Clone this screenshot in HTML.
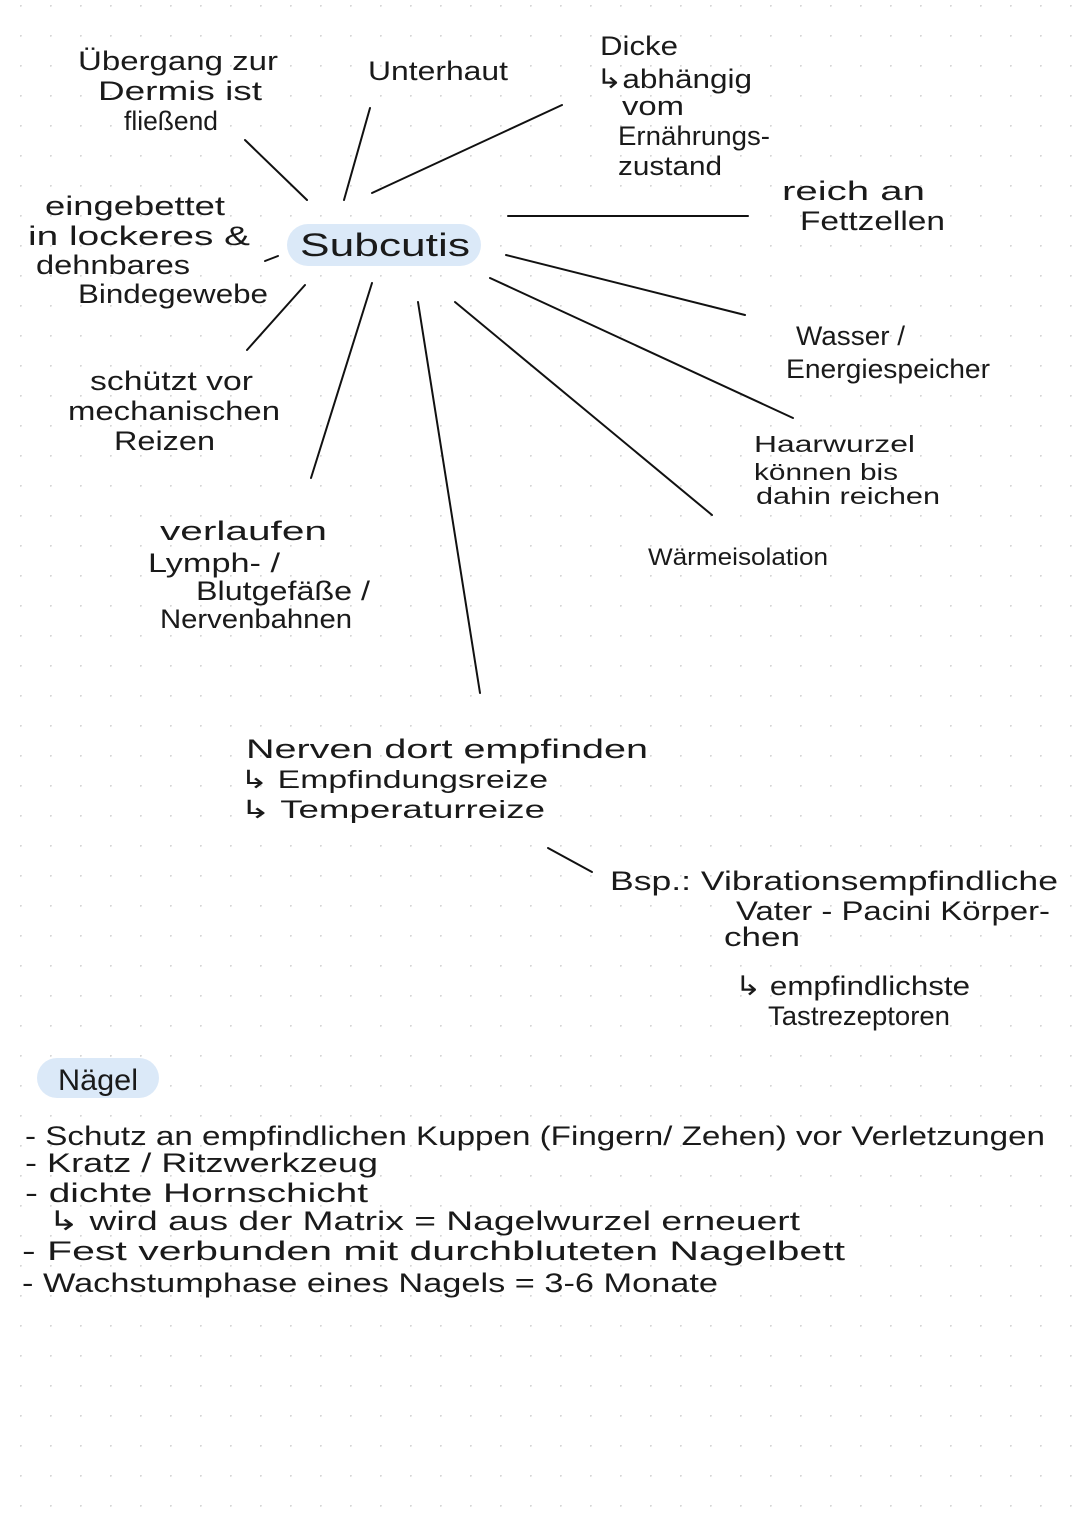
<!DOCTYPE html>
<html><head><meta charset="utf-8"><style>
html,body{margin:0;padding:0;background:#fff;}
svg{display:block;}
text{font-family:"Liberation Sans",sans-serif;fill:#1a1a1a;}
</style></head><body>
<svg width="1080" height="1525" viewBox="0 0 1080 1525" xmlns="http://www.w3.org/2000/svg">
<defs>
<pattern id="dots" x="20" y="5" width="30" height="30" patternUnits="userSpaceOnUse">
<circle cx="0.5" cy="0.5" r="1.3" fill="#d6d6d6"/>
</pattern>
</defs>
<rect width="1080" height="1525" fill="url(#dots)"/>
<rect x="287" y="224" width="194" height="42" rx="21" fill="#dbe9f8"/>
<rect x="37" y="1058" width="122" height="40" rx="20" fill="#dbe9f8"/>
<g stroke="#111" stroke-width="2" stroke-linecap="round">
<line x1="245" y1="140" x2="307" y2="200"/>
<line x1="370" y1="108" x2="344" y2="200"/>
<line x1="372" y1="193" x2="562" y2="105"/>
<line x1="508" y1="216" x2="748" y2="216"/>
<line x1="265" y1="261" x2="278" y2="256"/>
<line x1="305" y1="285" x2="247" y2="350"/>
<line x1="372" y1="283" x2="311" y2="478"/>
<line x1="418" y1="302" x2="480" y2="693"/>
<line x1="455" y1="302" x2="712" y2="515"/>
<line x1="490" y1="278" x2="793" y2="418"/>
<line x1="506" y1="255" x2="745" y2="315"/>
<line x1="548" y1="848" x2="592" y2="872"/>
</g>
<g font-size="27" lengthAdjust="spacingAndGlyphs">
<text x="300" y="256" font-size="32" textLength="170" lengthAdjust="spacingAndGlyphs">Subcutis</text>
<text x="78" y="70" textLength="200" lengthAdjust="spacingAndGlyphs">Übergang zur</text>
<text x="98" y="100" textLength="164" lengthAdjust="spacingAndGlyphs">Dermis ist</text>
<text x="124" y="130" textLength="94" lengthAdjust="spacingAndGlyphs">fließend</text>
<text x="368" y="80" textLength="140" lengthAdjust="spacingAndGlyphs">Unterhaut</text>
<text x="600" y="55" textLength="78" lengthAdjust="spacingAndGlyphs">Dicke</text>
<text x="596" y="88" textLength="156" lengthAdjust="spacingAndGlyphs">↳abhängig</text>
<text x="622" y="115" textLength="62" lengthAdjust="spacingAndGlyphs">vom</text>
<text x="618" y="145" textLength="152" lengthAdjust="spacingAndGlyphs">Ernährungs-</text>
<text x="618" y="175" textLength="104" lengthAdjust="spacingAndGlyphs">zustand</text>
<text x="782" y="200" textLength="143" lengthAdjust="spacingAndGlyphs">reich an</text>
<text x="800" y="230" textLength="145" lengthAdjust="spacingAndGlyphs">Fettzellen</text>
<text x="45" y="215" textLength="180" lengthAdjust="spacingAndGlyphs">eingebettet</text>
<text x="28" y="245" textLength="222" lengthAdjust="spacingAndGlyphs">in lockeres &amp;</text>
<text x="36" y="274" textLength="154" lengthAdjust="spacingAndGlyphs">dehnbares</text>
<text x="78" y="303" textLength="190" lengthAdjust="spacingAndGlyphs">Bindegewebe</text>
<text x="796" y="345" textLength="109" lengthAdjust="spacingAndGlyphs">Wasser /</text>
<text x="786" y="378" textLength="204" lengthAdjust="spacingAndGlyphs">Energiespeicher</text>
<text x="90" y="390" textLength="163" lengthAdjust="spacingAndGlyphs">schützt vor</text>
<text x="68" y="420" textLength="212" lengthAdjust="spacingAndGlyphs">mechanischen</text>
<text x="114" y="450" textLength="101" lengthAdjust="spacingAndGlyphs">Reizen</text>
<text x="754" y="452" font-size="23" textLength="161" lengthAdjust="spacingAndGlyphs">Haarwurzel</text>
<text x="754" y="480" font-size="23" textLength="144" lengthAdjust="spacingAndGlyphs">können bis</text>
<text x="756" y="504" font-size="23" textLength="184" lengthAdjust="spacingAndGlyphs">dahin reichen</text>
<text x="160" y="540" textLength="167" lengthAdjust="spacingAndGlyphs">verlaufen</text>
<text x="148" y="572" textLength="132" lengthAdjust="spacingAndGlyphs">Lymph- /</text>
<text x="196" y="600" textLength="174" lengthAdjust="spacingAndGlyphs">Blutgefäße /</text>
<text x="160" y="628" textLength="192" lengthAdjust="spacingAndGlyphs">Nervenbahnen</text>
<text x="648" y="565" font-size="24" textLength="180" lengthAdjust="spacingAndGlyphs">Wärmeisolation</text>
<text x="246" y="758" textLength="402" lengthAdjust="spacingAndGlyphs">Nerven dort empfinden</text>
<text x="240" y="788" font-size="25" textLength="308" lengthAdjust="spacingAndGlyphs">↳ Empfindungsreize</text>
<text x="240" y="818" font-size="25" textLength="305" lengthAdjust="spacingAndGlyphs">↳ Temperaturreize</text>
<text x="610" y="890" textLength="448" lengthAdjust="spacingAndGlyphs">Bsp.: Vibrationsempfindliche</text>
<text x="736" y="920" textLength="314" lengthAdjust="spacingAndGlyphs">Vater - Pacini Körper-</text>
<text x="724" y="946" textLength="76" lengthAdjust="spacingAndGlyphs">chen</text>
<text x="735" y="995" textLength="235" lengthAdjust="spacingAndGlyphs">↳ empfindlichste</text>
<text x="768" y="1025" textLength="182" lengthAdjust="spacingAndGlyphs">Tastrezeptoren</text>
<text x="58" y="1090" font-size="30" textLength="80" lengthAdjust="spacingAndGlyphs">Nägel</text>
<text x="25" y="1145" textLength="1020" lengthAdjust="spacingAndGlyphs">- Schutz an empfindlichen Kuppen (Fingern/ Zehen) vor Verletzungen</text>
<text x="25" y="1172" textLength="353" lengthAdjust="spacingAndGlyphs">- Kratz / Ritzwerkzeug</text>
<text x="25" y="1202" textLength="343" lengthAdjust="spacingAndGlyphs">- dichte Hornschicht</text>
<text x="48" y="1230" textLength="752" lengthAdjust="spacingAndGlyphs">↳ wird aus der Matrix = Nagelwurzel erneuert</text>
<text x="22" y="1260" textLength="823" lengthAdjust="spacingAndGlyphs">- Fest verbunden mit durchbluteten Nagelbett</text>
<text x="22" y="1292" textLength="696" lengthAdjust="spacingAndGlyphs">- Wachstumphase eines Nagels = 3-6 Monate</text>
</g>
</svg>
</body></html>
